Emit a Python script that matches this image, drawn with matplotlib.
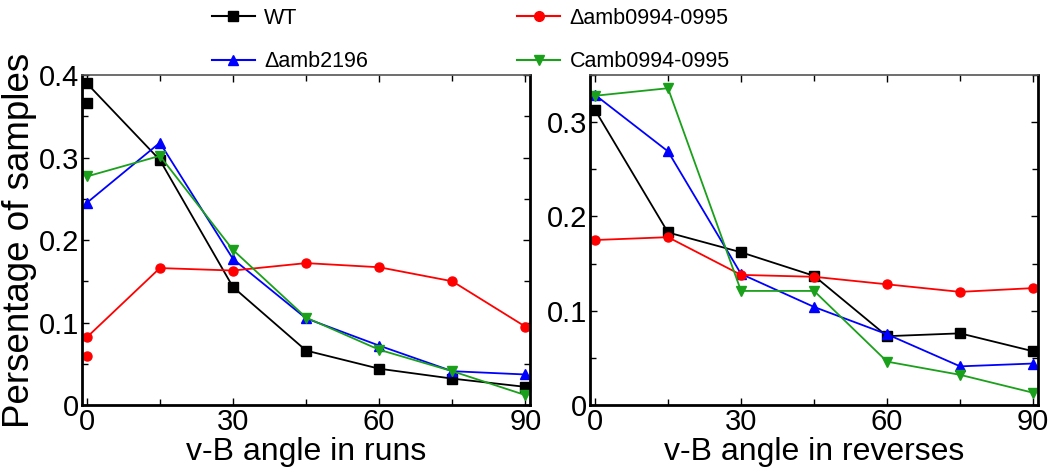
import matplotlib
matplotlib.use("Agg")
import matplotlib.pyplot as plt
from matplotlib.ticker import MultipleLocator, FuncFormatter
from matplotlib.lines import Line2D

plt.rcParams['font.family'] = ['Liberation Sans', 'DejaVu Sans']

angles = [0, 15, 30, 45, 60, 75, 90]
series_names = ['WT', 'Δamb2196', 'Δamb0994-0995', 'Camb0994-0995']
colors = ['black', 'blue', 'red', '#1aa01a']
markers = ['s', '^', 'o', 'v']

# runs panel (line values)
runs_wt = [0.390, 0.297, 0.143, 0.066, 0.044, 0.032, 0.022]
runs_d2196 = [0.245, 0.318, 0.177, 0.105, 0.072, 0.041, 0.037]
runs_d0994 = [0.082, 0.166, 0.163, 0.172, 0.167, 0.150, 0.095]
runs_c0994 = [0.277, 0.302, 0.188, 0.106, 0.067, 0.041, 0.012]
# stray markers at angle 0 in the runs panel
runs_extra_wt = 0.366
runs_extra_d0994 = 0.059

# reverses panel
rev_wt = [0.313, 0.183, 0.162, 0.137, 0.073, 0.076, 0.057]
rev_d2196 = [0.329, 0.269, 0.139, 0.104, 0.075, 0.041, 0.044]
rev_d0994 = [0.175, 0.178, 0.138, 0.136, 0.128, 0.120, 0.124]
rev_c0994 = [0.328, 0.336, 0.121, 0.121, 0.046, 0.032, 0.013]

fig = plt.figure(figsize=(10.5, 4.68), dpi=100)
ax1 = fig.add_axes([0.078, 0.1346, 0.427, 0.7051])
ax2 = fig.add_axes([0.562, 0.1346, 0.4266, 0.7051])

def style(ax, ymax, xlabel):
    ax.set_xlim(-1, 91)
    ax.set_ylim(0, ymax)
    ax.xaxis.set_major_locator(MultipleLocator(30))
    ax.xaxis.set_minor_locator(MultipleLocator(15))
    ax.yaxis.set_major_locator(MultipleLocator(0.1))
    ax.yaxis.set_minor_locator(MultipleLocator(0.05))
    ax.yaxis.set_major_formatter(FuncFormatter(lambda v, p: '0' if abs(v) < 1e-9 else ('%.1f' % v)))
    ax.tick_params(which='both', direction='in', top=True, right=True, labelsize=21, pad=2)
    ax.tick_params(which='major', length=5, width=1)
    ax.tick_params(which='minor', length=4, width=1)
    for s in ['left', 'bottom', 'right']:
        ax.spines[s].set_linewidth(2)
    ax.spines['top'].set_linewidth(1.2)
    ax.spines['top'].set_color('#555555')
    ax.set_xlabel(xlabel, fontsize=23, labelpad=1)

runs = [runs_wt, runs_d2196, runs_d0994, runs_c0994]
revs = [rev_wt, rev_d2196, rev_d0994, rev_c0994]
for vals, c, m in zip(runs, colors, markers):
    ax1.plot(angles, vals, color=c, marker=m, markersize=6.5, linewidth=1.3, clip_on=False)
for vals, c, m in zip(revs, colors, markers):
    ax2.plot(angles, vals, color=c, marker=m, markersize=6.5, linewidth=1.3, clip_on=False)
ax1.plot([angles[0]], [runs_extra_wt], color=colors[0], marker='s', markersize=6.5, linestyle='none', clip_on=False)
ax1.plot([angles[0]], [runs_extra_d0994], color=colors[2], marker='o', markersize=6.5, linestyle='none', clip_on=False)

style(ax1, 0.4, 'v-B angle in runs')
style(ax2, 0.35, 'v-B angle in reverses')
ax1.set_ylabel('Persentage of samples', fontsize=26.5, labelpad=1)

handles = [Line2D([0], [0], color=c, marker=m, markersize=7, linewidth=1.5) for c, m in zip(colors, markers)]
leg1 = fig.legend(handles[:2], series_names[:2], loc='upper left', bbox_to_anchor=(0.183, 1.025),
                  frameon=False, fontsize=15.5, handlelength=2, labelspacing=1.05, handletextpad=0.45)
leg2 = fig.legend(handles[2:], series_names[2:], loc='upper left', bbox_to_anchor=(0.474, 1.025),
                  frameon=False, fontsize=15.5, handlelength=2, labelspacing=1.05, handletextpad=0.45)

fig.savefig('out.png', dpi=100)
